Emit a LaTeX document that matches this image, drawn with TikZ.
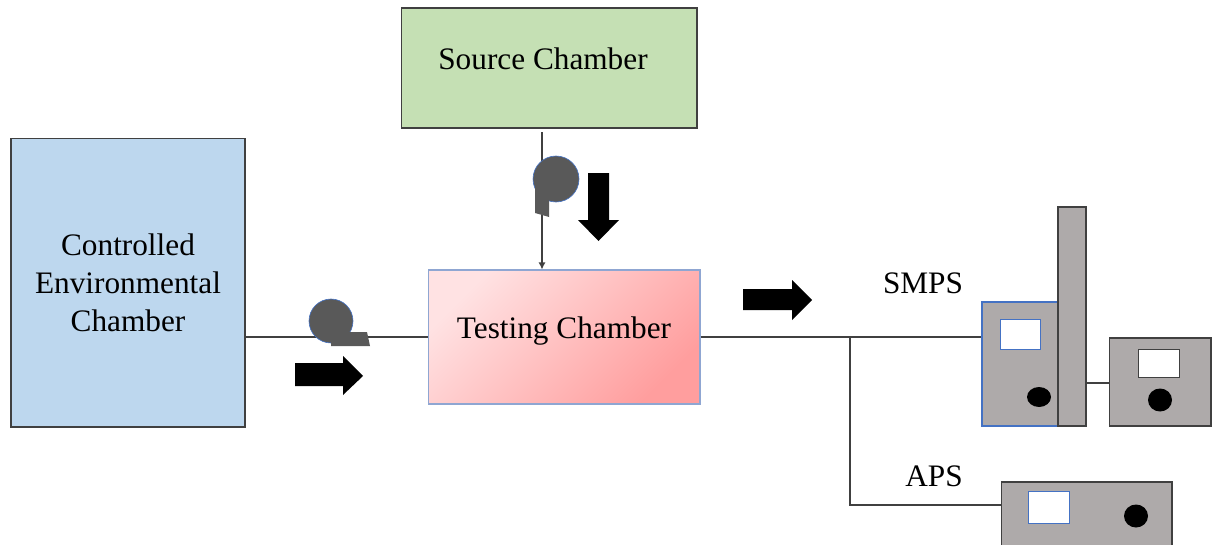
\documentclass[tikz,border=0pt]{standalone}
\usepackage{fontspec}
\setmainfont{Liberation Serif}
\newfontfamily\labelserif{Liberation Serif}
\usetikzlibrary{calc,shapes.geometric,arrows.meta}
\definecolor{edge}{RGB}{64,64,64}
\definecolor{srcgreen}{RGB}{197,224,180}
\definecolor{envblue}{RGB}{189,215,238}
\definecolor{pinkA}{RGB}{255,226,227}
\definecolor{pinkB}{RGB}{255,158,158}
\definecolor{pinkedge}{RGB}{143,166,210}
\definecolor{devgray}{RGB}{174,170,170}
\definecolor{fangray}{RGB}{89,89,89}
\definecolor{fanedge}{RGB}{68,114,196}
\begin{document}
\begin{tikzpicture}[x=0.02cm,y=-0.02cm,
  every node/.style={font=\labelserif\fontsize{17.8pt}{21.6pt}\selectfont},
  chamber/.style={rectangle, draw=edge, line width=0.6pt, align=center, inner sep=0pt},
  device/.style={rectangle, draw=edge, fill=devgray, line width=0.6pt, inner sep=0pt},
  screen/.style={rectangle, draw=fanedge, fill=white, line width=0.5pt, inner sep=0pt},
  knob/.style={ellipse, fill=black, inner sep=0pt},
  pipe/.style={draw=edge, line width=0.7pt},
  fanbody/.style={fill=fangray, draw=fanedge, line width=0.35pt},
  flow/.style={fill=black}
]
\useasboundingbox (0,0) rectangle (1216,544);

% chambers
\node[chamber, fill=srcgreen, minimum width=5.92cm, minimum height=2.4cm] (src) at (549,68) {};
\node (srctext) at (543,59) {Source Chamber};
\node[chamber, fill=envblue, minimum width=4.68cm, minimum height=5.78cm] (env) at (128,282.5) {Controlled\\Environmental\\Chamber};
\node[chamber, draw=pinkedge, top color=pinkA, bottom color=pinkB, shading angle=45,
      minimum width=5.44cm, minimum height=2.68cm] (test) at (564,337) {};
\node (testtext) at (564,331) {Testing Chamber};

% instruments
\node[device, draw=fanedge, minimum width=1.52cm, minimum height=2.48cm] (dma) at (1020,364) {};
\node[device, minimum width=0.56cm, minimum height=4.38cm] (col) at (1072,316.5) {};
\node[device, minimum width=2.04cm, minimum height=1.76cm] (cpc) at (1160,382) {};
\node[device, minimum width=3.42cm, minimum height=1.76cm] (aps) at (1086.5,526) {};
\node[screen, minimum width=0.8cm, minimum height=0.6cm] (dmascr) at (1020,334) {};
\node[screen, draw=edge, minimum width=0.82cm, minimum height=0.56cm] (cpcscr) at (1158.5,363) {};
\node[screen, minimum width=0.82cm, minimum height=0.64cm] (apsscr) at (1048.5,507) {};
\node[knob, minimum width=0.48cm, minimum height=0.4cm] (dmaknob) at (1039,397) {};
\node[knob, minimum width=0.48cm, minimum height=0.46cm] (cpcknob) at (1160,400) {};
\node[knob, minimum width=0.48cm, minimum height=0.46cm] (apsknob) at (1136,516) {};

% labels
\node (smps) at (923,283) {SMPS};
\node (apslbl) at (934,476) {APS};

% connecting lines
\coordinate (feed) at (542,132);
\coordinate (split) at (850,338);
\coordinate (bend) at (850,505);
\draw[pipe] (env.east |- test.west) -- (test.west);
\draw[pipe, -{Latex[length=4pt,width=4pt]}] (feed) -- (feed |- test.north);
\draw[pipe] (test.east) -- (dma.west |- test.east);
\draw[pipe] (split) -- (bend) -- (aps.west |- bend);
\draw[pipe] (col.east |- 0,383) -- (cpc.west |- 0,383);

% blower on the inlet line
\fill[fanbody] (331,321) circle (22);
\fill[fangray] (331,332) -- (367,332) -- (370,346) -- (331,346) -- cycle;
% blower below the source chamber
\fill[fanbody] (556,179) circle (23);
\fill[fangray] (535,179) -- (549,179) -- (549,217) -- (535,213) -- cycle;

% flow direction arrows
\fill[flow] (295,363) -- (343,363) -- (343,356) -- (363,376) -- (343,395) -- (343,386) -- (295,386) -- cycle;
\fill[flow] (588,173) -- (609,173) -- (609,220) -- (619,220) -- (598.5,241) -- (578,220) -- (588,220) -- cycle;
\fill[flow] (743,289) -- (792,289) -- (792,280) -- (812,300) -- (792,320) -- (792,310) -- (743,310) -- cycle;
\end{tikzpicture}
\end{document}
